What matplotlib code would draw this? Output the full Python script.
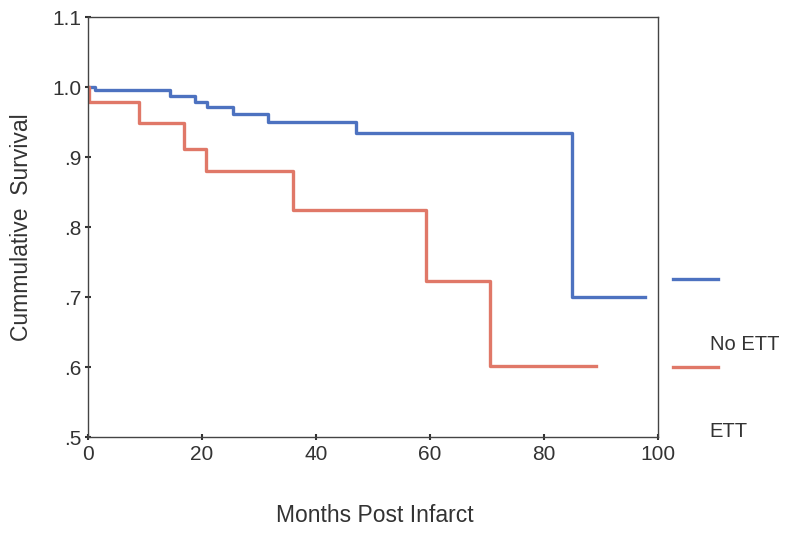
import matplotlib.pyplot as plt
from matplotlib.lines import Line2D

plt.rcParams["font.family"] = ["Liberation Sans", "DejaVu Sans"]

# Kaplan-Meier steps
no_ett_months = [0, 1.2, 14.4, 18.8, 20.8, 25.5, 31.6, 47.1, 84.9, 97.7]
no_ett_surv = [1.0, 0.996, 0.987, 0.979, 0.972, 0.961, 0.950, 0.934, 0.700, 0.700]

ett_months = [0, 0.2, 9.0, 16.9, 20.7, 35.9, 59.3, 70.6, 89.2]
ett_surv = [1.0, 0.978, 0.948, 0.912, 0.880, 0.825, 0.723, 0.602, 0.602]

y_ticks = [0.5, 0.6, 0.7, 0.8, 0.9, 1.0, 1.1]
y_tick_labels = [".5", ".6", ".7", ".8", ".9", "1.0", "1.1"]
x_ticks = [0, 20, 40, 60, 80, 100]

BLUE = "#4d72c0"
RED = "#e07868"

fig = plt.figure(figsize=(7.86, 5.33), dpi=100)
ax = fig.add_axes([0.112, 0.180, 0.725, 0.788])

ax.step(no_ett_months, no_ett_surv, where="post", color=BLUE, linewidth=2.4)
ax.step(ett_months, ett_surv, where="post", color=RED, linewidth=2.4)

ax.set_xlim(0, 100)
ax.set_ylim(0.5, 1.1)
ax.set_xticks(x_ticks)
ax.set_yticks(y_ticks)
ax.set_yticklabels(y_tick_labels)
ax.tick_params(direction="inout", length=5, width=1.5, labelsize=15, colors="#333333", pad=2)
ax.tick_params(axis="x", pad=3)
for s in ax.spines.values():
    s.set_color("#444444")
    s.set_linewidth(1.0)

ax.set_ylabel("Cummulative  Survival", fontsize=16.5, color="#333333", labelpad=14)
fig.text(0.477, 0.033, "Months Post Infarct", fontsize=16.5, color="#333333", ha="center", va="center")

# odd SPSS-style legend outside the axes
fig.add_artist(Line2D([0.856, 0.913], [0.477, 0.477], color=BLUE, linewidth=2.4))
fig.add_artist(Line2D([0.856, 0.913], [0.311, 0.311], color=RED, linewidth=2.4))
fig.text(0.903, 0.353, "No ETT", fontsize=14.5, color="#333333", va="center")
fig.text(0.903, 0.190, "ETT", fontsize=14.5, color="#333333", va="center")

fig.savefig("out.png", dpi=100)
